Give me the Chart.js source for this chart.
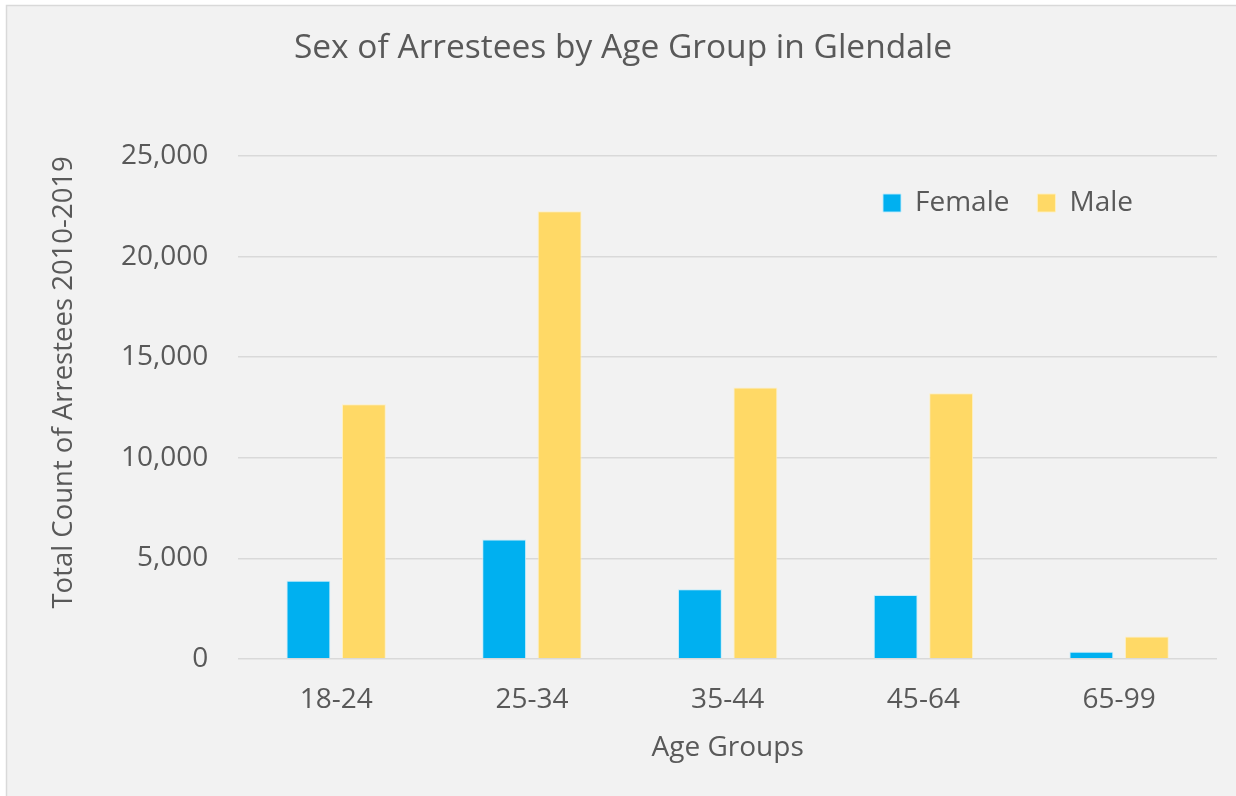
<!DOCTYPE html>
<html>
<head>
<meta charset="utf-8">
<script src="https://cdn.jsdelivr.net/npm/chart.js@4"></script>
<style>
	html, body { margin: 0; padding: 0; background: #fff; }
	#wrap { width: 1236px; height: 796px; }
</style>
</head>
<body>
<div id="wrap"><canvas id="arrest-canvas" width="1236" height="796"></canvas></div>
<script>
// data

const ageGroups = ["18-24", "25-34", "35-44", "45-64", "65-99"]
const femaleCounts = [3880, 5940, 3460, 3170, 350]
const maleCounts = [12660, 22260, 13500, 13210, 1110]

const textColor = "#595959"
const gridColor = "#d9d9d9"

Chart.defaults.font.family = "'Open Sans', sans-serif"
Chart.defaults.color = textColor

// plugins

// panel background with thin border, like the spreadsheet chart frame
const panelBackground = {
	id: "panelBackground",
	beforeDraw: chart => {
		const ctx = chart.ctx
		ctx.save()
		ctx.fillStyle = "#ffffff"
		ctx.fillRect(0, 0, chart.width, chart.height)
		ctx.fillStyle = "#f2f2f2"
		ctx.fillRect(6, 5, chart.width - 6, chart.height - 5)
		ctx.strokeStyle = gridColor
		ctx.lineWidth = 1.5
		ctx.strokeRect(6.5, 5.5, chart.width + 10, chart.height + 10)
		ctx.restore()
	},
}

// put the legend inside the plot, top right
const legendInside = {
	id: "legendInside",
	afterLayout: chart => {
		const legend = chart.legend
		const w = legend.width
		const h = legend.height
		legend.left = 855
		legend.right = 855 + w
		legend.top = 161
		legend.bottom = 161 + h
	},
}

const config = {
	type: "bar",
	data: {
		labels: ageGroups,
		datasets: [
			{
				label: "Female",
				data: femaleCounts,
				backgroundColor: "#00b0f0",
				borderColor: "rgba(190, 235, 252, 0.9)",
				borderWidth: 1,
			},
			{
				label: "Male",
				data: maleCounts,
				backgroundColor: "#ffd966",
				borderColor: "rgba(255, 240, 190, 0.9)",
				borderWidth: 1,
			},
		],
	},
	options: {
		responsive: false,
		animation: false,
		categoryPercentage: 0.567,
		barPercentage: 0.79,
		layout: {
			padding: { top: 0, left: 29, right: 19, bottom: 0 },
		},
		plugins: {
			title: {
				display: true,
				text: "Sex of Arrestees by Age Group in Glendale",
				color: textColor,
				font: { size: 33.5, weight: "normal" },
				padding: { top: 28, bottom: 22 },
			},
			legend: {
				display: true,
				position: "top",
				align: "start",
				labels: {
					boxWidth: 18,
					boxHeight: 18,
					padding: 28,
					color: textColor,
					font: { size: 28 },
				},
			},
			tooltip: { enabled: false },
		},
		scales: {
			x: {
				grid: { display: false, drawTicks: false },
				border: { display: false },
				ticks: {
					padding: 24,
					color: textColor,
					font: { size: 28 },
				},
				title: {
					display: true,
					text: "Age Groups",
					color: textColor,
					font: { size: 28 },
					padding: { top: -9, bottom: 31 },
				},
			},
			y: {
				min: 0,
				max: 25000,
				grid: {
					color: gridColor,
					lineWidth: 1.5,
					drawTicks: false,
				},
				border: { display: false },
				ticks: {
					stepSize: 5000,
					padding: 30,
					color: textColor,
					font: { size: 28 },
					callback: value => value.toLocaleString("en-US"),
				},
				title: {
					display: true,
					align: "end",
					text: "Total Count of Arrestees 2010-2019",
					color: textColor,
					font: { size: 27.5 },
					padding: { top: 19, bottom: 10 },
				},
			},
		},
	},
	plugins: [panelBackground, legendInside],
}

new Chart(document.querySelector("#arrest-canvas"), config)
</script>
</body>
</html>
